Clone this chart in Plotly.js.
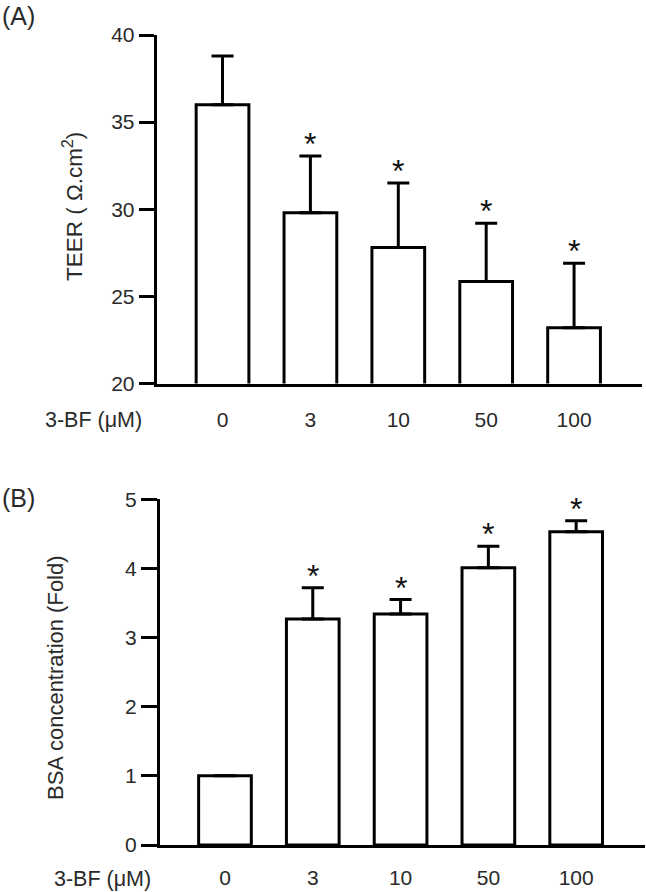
<!DOCTYPE html>
<html>
<head>
<meta charset="utf-8">
<script src="https://cdn.plot.ly/plotly-3.0.1.min.js"></script>
<style>html,body{margin:0;padding:0;background:#fff;}#chart{width:646px;height:892px;}</style>
</head>
<body>
<div id="chart"></div>
<script>
// ---- data ----
const doses = ['0', '3', '10', '50', '100'];
const teerMean = [36.0, 29.8, 27.8, 25.85, 23.2];
const teerSem = [2.8, 3.25, 3.7, 3.35, 3.7];
const bsaMean = [1.0, 3.27, 3.34, 4.01, 4.53];
const bsaSem = [0, 0.45, 0.21, 0.31, 0.16];
const sigA = ['', '*', '*', '*', '*'];
const sigB = ['', '*', '*', '*', '*'];
const xLabel = '3-BF (\u03bcM)';
const yTitleA = 'TEER ( \u03a9.cm<sup>2</sup>)';
const yTitleB = 'BSA concentration (Fold)';

const W = 646, H = 892;
const FONT = 'Arial, "Liberation Sans", sans-serif';
const TXT = '#2a2a2a';
const px = v => v / W;
const py = v => 1 - v / H;

function barTrace(vals, errs, xa, ya) {
  return {
    type: 'bar', x: doses, y: vals, xaxis: xa, yaxis: ya, width: 0.6,
    marker: {color: '#ffffff', line: {color: '#000', width: 3}},
    error_y: {type: 'data', symmetric: false, array: errs, arrayminus: errs.map(() => 0),
              color: '#000', thickness: 3, width: 11},
    showlegend: false, hoverinfo: 'skip'
  };
}

const data = [barTrace(teerMean, teerSem, 'x', 'y'), barTrace(bsaMean, bsaSem, 'x2', 'y2')];

const annotations = [];
function stars(sig, vals, errs, xr, yr) {
  sig.forEach((s, i) => {
    if (!s) return;
    annotations.push({x: i, y: vals[i] + errs[i], xref: xr, yref: yr, text: s,
      showarrow: false, xanchor: 'center', yanchor: 'middle', yshift: 12,
      font: {family: FONT, size: 32, color: '#111'}});
  });
}
stars(sigA, teerMean, teerSem, 'x', 'y');
stars(sigB, bsaMean, bsaSem, 'x2', 'y2');

annotations.push(
  {text: '(A)', xref: 'paper', yref: 'paper', x: 0, y: py(0), xanchor: 'left', yanchor: 'top', showarrow: false,
   font: {family: FONT, size: 25, color: TXT}},
  {text: '(B)', xref: 'paper', yref: 'paper', x: 0, y: py(482), xanchor: 'left', yanchor: 'top', showarrow: false,
   font: {family: FONT, size: 25, color: TXT}},
  {text: xLabel, xref: 'paper', yref: 'paper', x: px(43), y: py(420), xanchor: 'left', yanchor: 'middle', showarrow: false,
   font: {family: FONT, size: 21.5, color: TXT}},
  {text: xLabel, xref: 'paper', yref: 'paper', x: px(52), y: py(879), xanchor: 'left', yanchor: 'middle', showarrow: false,
   font: {family: FONT, size: 21.5, color: TXT}},
  {text: yTitleA, xref: 'paper', yref: 'paper', x: px(73), y: py(207), xanchor: 'center', yanchor: 'middle', textangle: -90,
   showarrow: false, font: {family: FONT, size: 22.5, color: TXT}},
  {text: yTitleB, xref: 'paper', yref: 'paper', x: px(55), y: py(678), xanchor: 'center', yanchor: 'middle', textangle: -90,
   showarrow: false, font: {family: FONT, size: 22, color: TXT}}
);

const xCommon = {type: 'category', showline: true, linecolor: '#000', linewidth: 3, showgrid: false, zeroline: false,
  ticks: 'outside', ticklen: 15, tickcolor: 'rgba(0,0,0,0)', tickfont: {family: FONT, size: 21, color: TXT}, fixedrange: true};
const yCommon = {showline: true, linecolor: '#000', linewidth: 3, showgrid: false, zeroline: false,
  ticks: 'outside', ticklen: 15, tickwidth: 3, tickcolor: '#000', tickfont: {family: FONT, size: 21, color: TXT}, fixedrange: true};

const layout = {
  width: W, height: H, margin: {l: 0, r: 0, t: 0, b: 0}, paper_bgcolor: '#fff', plot_bgcolor: '#fff',
  font: {family: FONT},
  xaxis: Object.assign({}, xCommon, {domain: [px(156.7), px(642)], anchor: 'y', range: [-0.749, 4.773]}),
  yaxis: Object.assign({}, yCommon, {domain: [py(383.5), py(35)], anchor: 'x', range: [20, 40], tickvals: [20, 25, 30, 35, 40]}),
  xaxis2: Object.assign({}, xCommon, {domain: [px(160), px(645)], anchor: 'y2', range: [-0.74, 4.784], ticklen: 12}),
  yaxis2: Object.assign({}, yCommon, {domain: [py(845), py(499.3)], anchor: 'x2', range: [0, 5], tickvals: [0, 1, 2, 3, 4, 5], ticklen: 16}),
  annotations: annotations,
  bargap: 0.4
};

Plotly.newPlot('chart', data, layout, {staticPlot: true, displayModeBar: false});
</script>
</body>
</html>
